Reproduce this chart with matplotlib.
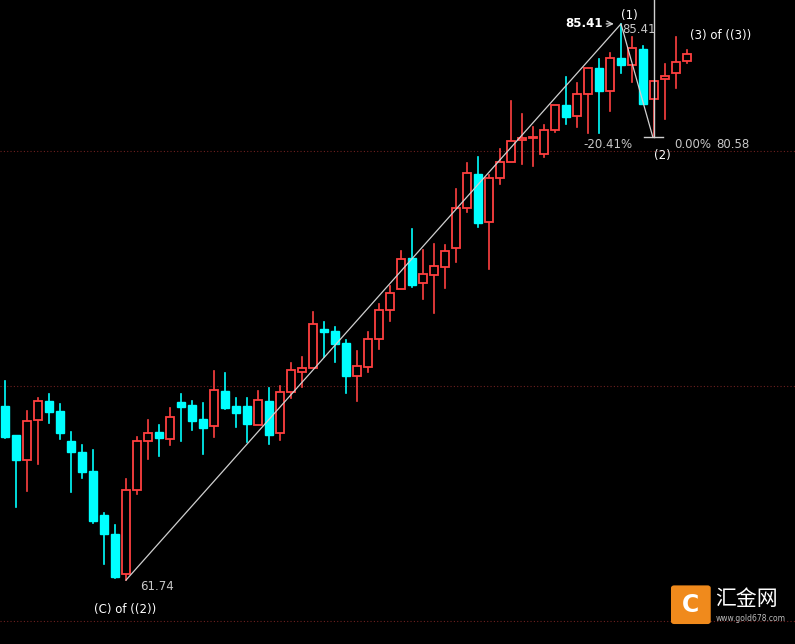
import matplotlib
matplotlib.use("Agg")
import matplotlib.pyplot as plt
from matplotlib.patches import Rectangle, FancyBboxPatch

# OHLC
opens = [69.15, 67.91, 66.85, 68.55, 69.36, 68.94, 67.66, 67.19, 66.38, 64.51,
         63.70, 62.00, 65.57, 67.66, 68.04, 67.74, 69.32, 69.19, 68.60, 68.30,
         69.79, 69.15, 69.15, 68.34, 69.36, 68.00, 69.74, 70.60, 70.77, 72.43,
         72.34, 71.83, 70.43, 70.81, 72.00, 73.23, 74.13, 75.45, 74.38, 74.72,
         75.06, 75.87, 77.57, 79.02, 76.98, 78.85, 79.53, 80.47, 80.55, 79.87,
         80.89, 81.96, 81.49, 82.43, 83.53, 82.55, 83.96, 83.66, 84.34, 82.21,
         83.06, 83.32, 83.83]
highs = [70.21, 67.91, 68.94, 69.49, 69.66, 69.23, 68.04, 67.49, 67.28, 64.60,
         64.09, 66.04, 67.83, 68.55, 68.34, 69.06, 69.66, 69.36, 69.28, 70.64,
         70.55, 69.49, 69.49, 69.79, 69.91, 70.00, 70.98, 71.23, 73.15, 72.72,
         72.51, 71.96, 71.49, 72.30, 73.49, 74.26, 75.74, 76.68, 75.79, 76.04,
         76.00, 78.38, 79.49, 79.74, 78.98, 80.09, 82.13, 81.57, 81.02, 81.11,
         81.96, 83.15, 82.89, 83.53, 83.91, 84.17, 85.41, 84.85, 84.47, 82.98,
         83.70, 84.85, 84.30]
lows = [67.79, 64.85, 65.55, 66.68, 68.43, 67.74, 65.49, 66.09, 64.17, 62.43,
        61.83, 61.74, 65.40, 66.89, 67.02, 67.49, 67.66, 68.13, 67.11, 67.83,
        69.02, 68.26, 67.62, 68.34, 67.53, 67.70, 69.49, 69.96, 70.77, 71.23,
        71.02, 69.70, 69.36, 70.60, 71.57, 72.77, 74.13, 74.21, 73.70, 73.11,
        74.17, 75.28, 77.40, 76.77, 74.98, 78.60, 79.53, 79.45, 79.36, 79.74,
        80.81, 81.15, 81.02, 80.77, 80.77, 81.70, 83.32, 82.94, 82.00, 80.58,
        81.36, 82.68, 83.74]
closes = [67.83, 66.85, 68.51, 69.36, 68.89, 68.00, 67.19, 66.34, 64.26, 63.70,
          61.87, 65.57, 67.66, 68.00, 67.79, 68.68, 69.11, 68.51, 68.21, 69.83,
          69.06, 68.85, 68.38, 69.40, 67.91, 69.74, 70.68, 70.77, 72.64, 72.30,
          71.79, 70.43, 70.85, 72.00, 73.23, 73.96, 75.40, 74.30, 74.77, 75.11,
          75.74, 77.57, 79.06, 76.94, 78.85, 79.53, 80.43, 80.55, 80.60, 80.89,
          81.96, 81.45, 82.43, 83.53, 82.55, 83.96, 83.66, 84.38, 82.00, 82.98,
          83.19, 83.79, 84.13]

# wave pivots: (candle index, price)
wave_x = [11, 56, 58.9]
wave_y = [61.74, 85.41, 80.58]
grid_levels = [80, 70, 60]

UP = "#ff4040"
DOWN = "#00ffff"

fig = plt.figure(figsize=(7.95, 6.44), dpi=100, facecolor="black")
ax = fig.add_axes([0, 0, 1, 1], facecolor="black")
ax.set_xlim(-5 / 11, 790 / 11)
ax.set_ylim(80 - 493 / 23.5, 80 + 151 / 23.5)
ax.axis("off")

for lv in grid_levels:
    ax.axhline(lv, color="#6e2020", linestyle=(0, (1, 2)), linewidth=0.8)

w = 0.72
for i, (o, h, l, c) in enumerate(zip(opens, highs, lows, closes)):
    up = c >= o
    col = UP if up else DOWN
    lo_b, hi_b = min(o, c), max(o, c)
    ax.plot([i, i], [hi_b, h], color=col, linewidth=1.2, zorder=2)
    ax.plot([i, i], [l, lo_b], color=col, linewidth=1.2, zorder=2)
    hgt = max(hi_b - lo_b, 0.05)
    if up:
        ax.add_patch(Rectangle((i - w / 2, lo_b), w, hgt, facecolor="black",
                               edgecolor=col, linewidth=1.3, zorder=3))
    else:
        ax.add_patch(Rectangle((i - w / 2, lo_b), w, hgt, facecolor=col,
                               edgecolor=col, linewidth=1.0, zorder=3))

# wave lines
ax.plot(wave_x, wave_y, color="#d0d0d0", linewidth=0.9, zorder=4)
ax.plot([59, 59], [wave_y[2], 90], color="#d0d0d0", linewidth=1.0, zorder=4)
ax.plot([58.1, 59.8], [wave_y[2], wave_y[2]], color="#d0d0d0", linewidth=1.0, zorder=4)

txt = dict(color="#c8c8c8", fontsize=8.5, family="DejaVu Sans")
ax.text(12.3, 61.45, "61.74", va="center", ha="left", **txt)
ax.text(10.9, 60.5, "(C) of ((2))", va="center", ha="center", color="white", fontsize=8.5)
ax.annotate("", xy=(55.6, 85.41), xytext=(54.4, 85.41),
            arrowprops=dict(arrowstyle="->", color="#d0d0d0", lw=0.9))
ax.text(54.3, 85.41, "85.41", va="center", ha="right", color="white",
        fontsize=8.5, fontweight="bold")
ax.text(56.8, 85.75, "(1)", va="center", ha="center", color="white", fontsize=8.5)
ax.text(56.1, 85.15, "85.41", va="center", ha="left", **txt)
ax.text(62.3, 84.9, "(3) of ((3))", va="center", ha="left", color="white", fontsize=8.5)
ax.text(54.8, 80.26, "-20.41%", va="center", ha="center", **txt)
ax.text(60.8, 80.26, "0.00%", va="center", ha="left", **txt)
ax.text(64.7, 80.26, "80.58", va="center", ha="left", **txt)
ax.text(59.8, 79.8, "(2)", va="center", ha="center", color="white", fontsize=8.5)

# watermark logo
fig.patches.append(FancyBboxPatch((0.848, 0.035), 0.042, 0.052, boxstyle="round,pad=0.004",
                                  transform=fig.transFigure, facecolor="#f08a1c",
                                  edgecolor="none"))
fig.text(0.869, 0.061, "C", color="white", fontsize=17, fontweight="bold",
         ha="center", va="center")
fig.text(0.9, 0.07, "汇金网", color="white", fontsize=15, ha="left", va="center",
         family=["Noto Sans CJK SC", "DejaVu Sans"])
fig.text(0.9, 0.04, "www.gold678.com", color="#bbbbbb", fontsize=5.5, ha="left", va="center")

fig.savefig("out.png", dpi=100, facecolor="black")
